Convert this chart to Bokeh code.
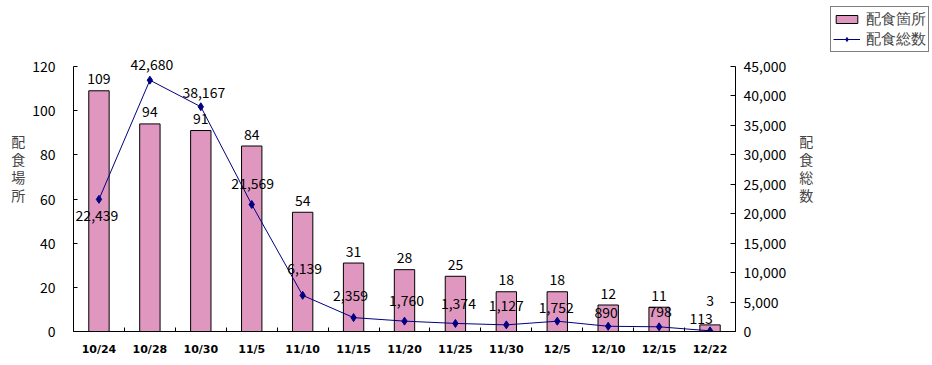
import numpy as np
from bokeh.plotting import figure
from bokeh.layouts import row
from bokeh.models import (Range1d, LinearAxis, FixedTicker, NumeralTickFormatter,
                          Legend, LegendItem, ColumnDataSource)
from bokeh.embed import file_html
from bokeh.resources import INLINE
from bokeh.core.properties import value

# ---- data ----
dates = ["10/24", "10/28", "10/30", "11/5", "11/10", "11/15", "11/20",
         "11/25", "11/30", "12/5", "12/10", "12/15", "12/22"]
sites = [109, 94, 91, 84, 54, 31, 28, 25, 18, 18, 12, 11, 3]          # 配食箇所
totals = [22439, 42680, 38167, 21569, 6139, 2359, 1760, 1374, 1127,
          1752, 890, 798, 113]                                          # 配食総数
site_ticks = [0, 20, 40, 60, 80, 100, 120]
total_ticks = [0, 5000, 10000, 15000, 20000, 25000, 30000, 35000, 40000, 45000]
site_max = 120
total_max = 45000
series_names = ["配食箇所", "配食総数"]

# ---- label nudges (style only, screen px) ----
site_label_dy = [-12, -12, -12, -12, -12, -12, -12, -12, -12, -12, -12, -12, -24]
total_label_dx = [-2, 2, 3, 1, 2, -3, 2, 3, 0, -1, -2, 1, -9]
total_label_dy = [16, -16, -14, -21, -27, -22, -21, -20, -19, -14, -14, -15, -12]

FONT = "Noto Sans CJK JP"
NAVY = "#000080"
PINK = "#DF97C0"

# ---- layout (px) ----
W, H = 932, 365
MAIN_W = 826
FRAME_L, FRAME_R, FRAME_T, FRAME_B = 73, 735, 3, 331
AXIS_TOP = 66          # pixel where the axes end (120 / 45,000)
scale = (FRAME_B - FRAME_T) / (FRAME_B - AXIS_TOP)

n = len(dates)
xs = list(np.arange(n) + 0.5)

src = ColumnDataSource(dict(
    x=xs, date=dates, sites=sites, totals=totals,
    sites_lbl=[str(v) for v in sites],
    totals_lbl=[f"{v:,}" for v in totals],
    sdy=site_label_dy, dx=total_label_dx, dy=total_label_dy,
))

p = figure(width=MAIN_W, height=H, output_backend="svg", toolbar_location=None,
           x_range=Range1d(0, n), y_range=Range1d(0, site_max * scale),
           x_axis_type=None, y_axis_type=None,
           min_border_left=FRAME_L, min_border_right=MAIN_W - FRAME_R,
           min_border_top=FRAME_T, min_border_bottom=H - FRAME_B)
p.extra_y_ranges = {"tot": Range1d(0, total_max * scale)}
p.outline_line_color = None
p.background_fill_color = "white"
p.border_fill_color = "white"

# x axis
xaxis = LinearAxis(
    ticker=FixedTicker(ticks=xs, minor_ticks=list(range(n + 1))),
    major_label_overrides={float(x): d for x, d in zip(xs, dates)},
)
xaxis.major_tick_line_color = None
xaxis.major_tick_in = 0
xaxis.major_tick_out = 0
xaxis.minor_tick_in = 4
xaxis.minor_tick_out = 0
xaxis.minor_tick_line_color = "black"
xaxis.axis_line_color = "black"
xaxis.major_label_text_font = "DejaVu Sans"
xaxis.major_label_text_font_size = "11px"
xaxis.major_label_text_font_style = "bold"
xaxis.major_label_text_color = "black"
xaxis.major_label_standoff = 11
p.add_layout(xaxis, "below")

# left axis
laxis = LinearAxis(ticker=FixedTicker(ticks=site_ticks), bounds=(0, site_max),
                   axis_label="配\n食\n場\n所")
laxis.axis_label_orientation = "horizontal"
laxis.major_tick_in = 4
laxis.major_tick_out = 0
laxis.minor_tick_line_color = None
laxis.axis_line_color = "black"
laxis.major_label_text_font = FONT
laxis.major_label_text_font_size = "14px"
laxis.major_label_text_color = "black"
laxis.major_label_standoff = 18
laxis.axis_label_text_font = FONT
laxis.axis_label_text_font_size = "14px"
laxis.axis_label_text_font_style = "normal"
laxis.axis_label_text_line_height = 0.9
laxis.axis_label_standoff = 4
p.add_layout(laxis, "left")

# right axis
raxis = LinearAxis(y_range_name="tot", ticker=FixedTicker(ticks=total_ticks),
                   bounds=(0, total_max),
                   formatter=NumeralTickFormatter(format="0,0"),
                   axis_label="配\n食\n総\n数")
raxis.axis_label_orientation = "horizontal"
raxis.major_tick_in = 5
raxis.major_tick_out = 0
raxis.minor_tick_line_color = None
raxis.axis_line_color = "black"
raxis.major_label_text_font = FONT
raxis.major_label_text_font_size = "14px"
raxis.major_label_text_color = "black"
raxis.major_label_standoff = 8
raxis.axis_label_text_font = FONT
raxis.axis_label_text_font_size = "14px"
raxis.axis_label_text_font_style = "normal"
raxis.axis_label_text_line_height = 0.9
raxis.axis_label_standoff = 10
p.add_layout(raxis, "right")

# bars / line / markers
bar_style = dict(fill_color=PINK, line_color="black", line_width=1)
line_style = dict(line_color=NAVY, line_width=1)
mark_style = dict(marker="diamond", size=8, fill_color=NAVY, line_color=NAVY)

p.vbar(x="x", top="sites", width=0.4, source=src, **bar_style)
p.line(x="x", y="totals", y_range_name="tot", source=src, **line_style)
p.scatter(x="x", y="totals", y_range_name="tot", source=src, **mark_style)

# labels
p.text(x="x", y="sites", text="sites_lbl", source=src, y_offset="sdy",
       text_align="center", text_baseline="middle",
       text_font=value(FONT), text_font_size="14px", text_color="black")
p.text(x="x", y="totals", text="totals_lbl", source=src, y_range_name="tot",
       x_offset="dx", y_offset="dy",
       text_align="center", text_baseline="middle",
       text_font=value(FONT), text_font_size="14px", text_color="black")

# ---- legend panel: a narrow figure whose view is away from the data,
#      so its renderers only serve as legend keys ----
lg = figure(width=W - MAIN_W, height=H, output_backend="svg", toolbar_location=None,
            x_axis_type=None, y_axis_type=None,
            x_range=Range1d(-200, -199), y_range=Range1d(-200, -199),
            min_border_left=0, min_border_right=0,
            min_border_top=0, min_border_bottom=0)
lg.outline_line_color = None
lg.grid.visible = False
k_bar = lg.vbar(x="x", top="sites", width=0.4, source=src, **bar_style)
k_line = lg.line(x="x", y="totals", source=src, **line_style)
k_mark = lg.scatter(x="x", y="totals", source=src, **mark_style)

legend = Legend(items=[LegendItem(label=series_names[0], renderers=[k_bar]),
                       LegendItem(label=series_names[1], renderers=[k_line, k_mark])],
                location="top_right")
legend.border_line_color = "black"
legend.border_line_width = 1
legend.background_fill_color = "white"
legend.background_fill_alpha = 1
legend.label_text_font = "Lato"
legend.label_text_font_size = "15px"
legend.glyph_width = 27
legend.glyph_height = 10
legend.spacing = 0
legend.padding = 2
legend.margin = 3
legend.label_standoff = 6
legend.label_height = 16
lg.add_layout(legend)

layout = row(p, lg, spacing=0)
open("out.html", "w").write(file_html(layout, INLINE))
